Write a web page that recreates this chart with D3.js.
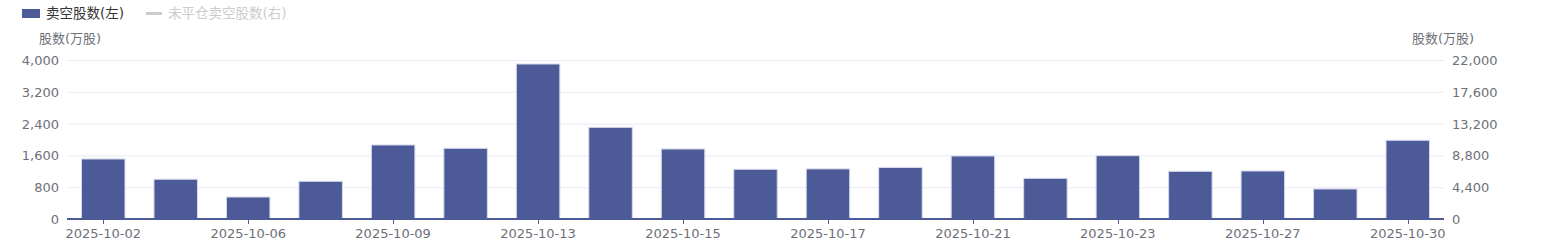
<!DOCTYPE html>
<html>
<head>
<meta charset="utf-8">
<script src="https://cdn.jsdelivr.net/npm/d3@7"></script>
<style>
  body { margin: 0; background: #fff; }
  svg { display: block; font-family: "DejaVu Sans", "Noto Sans CJK SC", sans-serif; }
</style>
</head>
<body>
<svg width="1545" height="250"></svg>
<script>
// trading days shown on the x axis
const dates = ['2025-10-02', '2025-10-03', '2025-10-06', '2025-10-08', '2025-10-09', '2025-10-10',
  '2025-10-13', '2025-10-14', '2025-10-15', '2025-10-16', '2025-10-17', '2025-10-20',
  '2025-10-21', '2025-10-22', '2025-10-23', '2025-10-24', '2025-10-27', '2025-10-28', '2025-10-30'];
// 卖空股数 (万股)
const shortShares = [1510, 1000, 553, 948, 1862, 1778, 3899, 2306, 1761, 1250, 1260, 1296,
  1585, 1023, 1593, 1199, 1208, 755, 1980];
const leftTicks = [0, 800, 1600, 2400, 3200, 4000];
const rightTicks = [0, 4400, 8800, 13200, 17600, 22000];
const legendNames = ['卖空股数(左)', '未平仓卖空股数(右)'];

const svg = d3.select('svg');
const margin = {left: 67, right: 101, top: 60, bottom: 31};
const W = 1545, H = 250;

const x = d3.scaleBand().domain(dates)
  .range([margin.left, W - margin.right]).paddingInner(0.4).paddingOuter(0.2);
const yL = d3.scaleLinear().domain([0, 4000]).range([H - margin.bottom, margin.top]);
const yR = d3.scaleLinear().domain([0, 22000]).range([H - margin.bottom, margin.top]);
const fmt = d3.format(',');

// grid
svg.append('g').selectAll('line').data(leftTicks.slice(1)).enter()
  .append('line')
  .attr('x1', margin.left).attr('x2', W - margin.right)
  .attr('y1', d => yL(d) + 0.5).attr('y2', d => yL(d) + 0.5)
  .attr('stroke', '#e9e9f6');

// bars
svg.append('g').selectAll('rect').data(shortShares).enter()
  .append('rect')
  .attr('x', (d, i) => x(dates[i]))
  .attr('y', d => yL(d))
  .attr('width', x.bandwidth())
  .attr('height', d => yL(0) - yL(d))
  .attr('fill', '#4d5a98')
  .attr('stroke', '#d6d9ec')
  .attr('stroke-width', 1);

// x axis line
svg.append('line')
  .attr('x1', margin.left).attr('x2', W - margin.right)
  .attr('y1', yL(0)).attr('y2', yL(0))
  .attr('stroke', '#4d5a98').attr('stroke-width', 2);

// x axis ticks + labels, every other day
const shown = dates.filter((d, i) => i % 2 === 0);
const xa = svg.append('g');
xa.selectAll('line').data(shown).enter().append('line')
  .attr('x1', d => Math.round(x(d) + x.bandwidth() / 2) + 0.5)
  .attr('x2', d => Math.round(x(d) + x.bandwidth() / 2) + 0.5)
  .attr('y1', yL(0)).attr('y2', yL(0) + 5)
  .attr('stroke', '#4d5a98');
xa.selectAll('text').data(shown).enter().append('text')
  .attr('x', d => x(d) + x.bandwidth() / 2)
  .attr('y', yL(0) + 19)
  .attr('text-anchor', 'middle')
  .attr('font-size', 13).attr('fill', '#6e7079')
  .text(d => d);

// left axis labels
svg.append('g').selectAll('text').data(leftTicks).enter().append('text')
  .attr('x', margin.left - 8).attr('y', d => yL(d) + 5)
  .attr('text-anchor', 'end').attr('font-size', 13).attr('fill', '#6e7079')
  .text(d => fmt(d));

// right axis labels
svg.append('g').selectAll('text').data(rightTicks).enter().append('text')
  .attr('x', W - margin.right + 8).attr('y', d => yR(d) + 5)
  .attr('text-anchor', 'start').attr('font-size', 13).attr('fill', '#6e7079')
  .text(d => fmt(d));

// axis names
svg.append('text').attr('x', 70).attr('y', 43).attr('text-anchor', 'middle')
  .attr('font-size', 13).attr('fill', '#6e7079').text('股数(万股)');
svg.append('text').attr('x', 1443).attr('y', 43).attr('text-anchor', 'middle')
  .attr('font-size', 13).attr('fill', '#6e7079').text('股数(万股)');

// legend
const lg = svg.append('g');
lg.append('rect').attr('x', 22).attr('y', 9).attr('width', 18).attr('height', 9)
  .attr('fill', '#4d5a98');
lg.append('text').attr('x', 46).attr('y', 18).attr('font-size', 13.5).attr('fill', '#333')
  .text(legendNames[0]);
lg.append('line').attr('x1', 146).attr('x2', 162).attr('y1', 13.5).attr('y2', 13.5)
  .attr('stroke', '#ccc').attr('stroke-width', 3);
lg.append('text').attr('x', 168).attr('y', 18).attr('font-size', 13.5).attr('fill', '#ccc')
  .text(legendNames[1]);
</script>
</body>
</html>
